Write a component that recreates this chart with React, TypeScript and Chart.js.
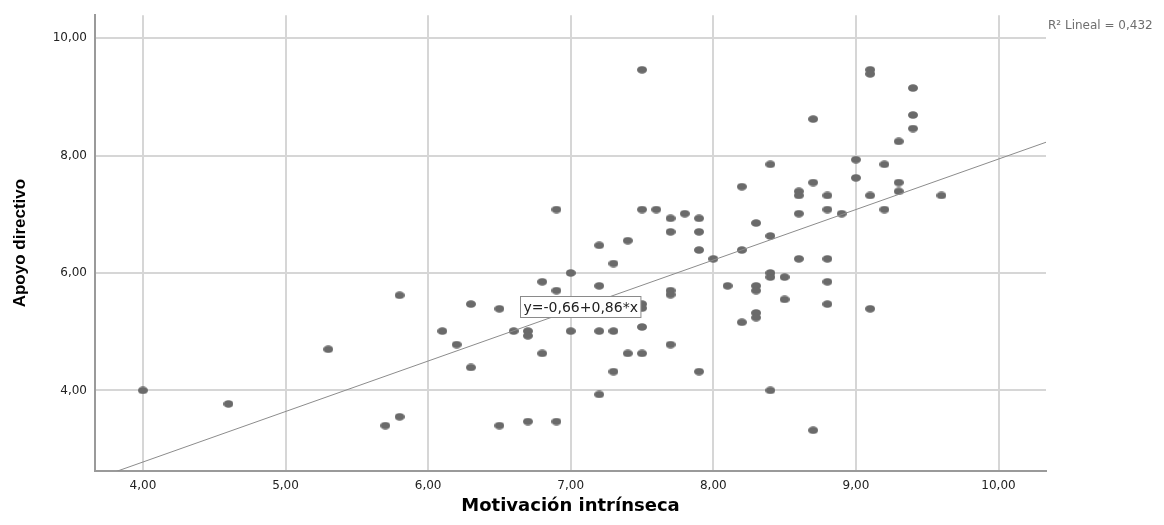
import React, { useEffect, useRef } from 'react';
import { Chart, registerables } from 'chart.js';

Chart.register(...registerables);

// ---- Data ----
const xValues: number[] = [
  4.0, 4.6, 5.3, 5.8, 5.8, 5.7, 6.1, 6.2, 6.3, 6.3,
  6.5, 6.5, 6.6, 6.7, 6.7, 6.7, 6.8, 6.8, 6.9, 6.9,
  6.9, 7.0, 7.0, 7.2, 7.2, 7.2, 7.2, 7.3, 7.3, 7.3,
  7.4, 7.4, 7.5, 7.5, 7.5, 7.5, 7.5, 7.5, 7.6, 7.7,
  7.7, 7.7, 7.7, 7.7, 7.8, 7.9, 7.9, 7.9, 7.9, 8.0,
  8.1, 8.2, 8.2, 8.2, 8.3, 8.3, 8.3, 8.3, 8.3, 8.4,
  8.4, 8.4, 8.4, 8.4, 8.5, 8.5, 8.6, 8.6, 8.6, 8.6,
  8.7, 8.7, 8.7, 8.8, 8.8, 8.8, 8.8, 8.8, 8.9, 9.0,
  9.0, 9.1, 9.1, 9.1, 9.1, 9.2, 9.2, 9.3, 9.3, 9.3,
  9.4, 9.4, 9.4, 9.6,
];
const yValues: number[] = [
  4.00, 3.77, 4.70, 5.62, 3.55, 3.40, 5.01, 4.78, 5.47, 4.39,
  5.39, 3.40, 5.01, 5.01, 4.93, 3.47, 5.85, 4.63, 7.08, 5.70,
  3.47, 6.00, 5.01, 6.47, 5.78, 5.01, 3.93, 6.16, 5.01, 4.32,
  6.55, 4.63, 9.46, 7.08, 5.47, 5.40, 5.08, 4.63, 7.08, 6.93,
  6.70, 5.70, 5.63, 4.78, 7.01, 6.93, 6.70, 6.39, 4.32, 6.24,
  5.78, 7.47, 6.39, 5.16, 6.85, 5.78, 5.70, 5.32, 5.24, 7.85,
  6.63, 6.00, 5.93, 4.00, 5.93, 5.55, 7.39, 7.32, 7.01, 6.24,
  8.62, 7.54, 3.32, 7.32, 7.08, 6.24, 5.85, 5.47, 7.01, 7.93,
  7.62, 9.46, 9.39, 7.32, 5.39, 7.85, 7.08, 8.24, 7.54, 7.39,
  9.15, 8.69, 8.46, 7.32,
];
const xTicks: number[] = [4, 5, 6, 7, 8, 9, 10];
const yTicks: number[] = [4, 6, 8, 10];
const xRange: number[] = [3.664, 10.333];
const yRange: number[] = [2.627, 10.39];
const intercept = -0.66;
const slope = 0.86;
const rSquared = 0.432;
const xTitle = 'Motivación intrínseca';
const yTitle = 'Apoyo directivo';
const eqLabelAt: number[] = [7.07, 5.43];

const fmt = (v: number, d = 2) => v.toFixed(d).replace('.', ',');

function makeDot(): HTMLCanvasElement {
  const c = document.createElement('canvas');
  c.width = 10;
  c.height = 8;
  const g = c.getContext('2d')!;
  g.fillStyle = '#6a6a6a';
  g.beginPath();
  g.ellipse(5, 4, 5, 3.8, 0, 0, Math.PI * 2);
  g.fill();
  return c;
}

const overlayPlugin = {
  id: 'overlayLabels',
  afterDraw(chart: any) {
    const { ctx, chartArea, scales } = chart;
    const xs = scales.x;
    const ys = scales.y;
    ctx.save();
    // equation box
    const eq = `y=${fmt(intercept)}+${fmt(slope)}*x`;
    ctx.font = '14px "DejaVu Sans"';
    const tw = ctx.measureText(eq).width;
    const cx = xs.getPixelForValue(eqLabelAt[0]);
    const cy = ys.getPixelForValue(eqLabelAt[1]);
    const bw = tw + 6;
    const bh = 21;
    const bx = Math.round(cx - bw / 2) + 0.5;
    const by = Math.round(cy - bh / 2) + 0.5;
    ctx.fillStyle = '#ffffff';
    ctx.fillRect(bx, by, bw, bh);
    ctx.strokeStyle = '#8a8a8a';
    ctx.lineWidth = 1;
    ctx.strokeRect(bx, by, bw, bh);
    ctx.fillStyle = '#222222';
    ctx.textAlign = 'center';
    ctx.textBaseline = 'middle';
    ctx.fillText(eq, bx + bw / 2, by + bh / 2 + 1);
    // R squared
    ctx.font = '12px "DejaVu Sans"';
    ctx.fillStyle = '#6e6e6e';
    ctx.textAlign = 'left';
    ctx.textBaseline = 'middle';
    ctx.fillText(`R² Lineal = ${fmt(rSquared, 3)}`, chartArea.right + 2, chartArea.top + 11);
    ctx.restore();
  },
};

export default function App() {
  const ref = useRef<HTMLCanvasElement | null>(null);

  useEffect(() => {
    if (!ref.current) return;
    const points = xValues.map((x, i) => ({ x, y: yValues[i] }));
    const fitLine = [xRange[0], xRange[1]].map((x) => ({ x, y: intercept + slope * x }));
    const dot = makeDot();

    const chart = new Chart(ref.current, {
      type: 'scatter',
      data: {
        datasets: [
          {
            type: 'line',
            data: fitLine,
            borderColor: '#8c8c8c',
            borderWidth: 1,
            pointRadius: 0,
            fill: false,
            order: 1,
          } as any,
          {
            data: points,
            pointStyle: dot as any,
            pointRadius: 5,
            backgroundColor: '#6a6a6a',
            borderWidth: 0,
            order: 2,
          },
        ],
      },
      options: {
        animation: false,
        responsive: false,
        devicePixelRatio: 1,
        layout: { padding: { left: 0, top: 13, right: 118, bottom: 0 } },
        plugins: { legend: { display: false }, tooltip: { enabled: false } },
        scales: {
          x: {
            type: 'linear',
            min: xRange[0],
            max: xRange[1],
            afterBuildTicks: (s: any) => {
              s.ticks = xTicks.map((v) => ({ value: v }));
            },
            afterFit: (s: any) => {
              s.height = 54;
            },
            grid: { color: '#d6d6d6', lineWidth: 2, drawTicks: false },
            border: { color: '#9a9a9a', width: 2 },
            ticks: {
              padding: 8,
              color: '#222222',
              font: { family: '"DejaVu Sans"', size: 12 },
              maxRotation: 0,
              callback: (v: any) => fmt(Number(v)),
            },
            title: {
              display: true,
              text: xTitle,
              color: '#000000',
              font: { family: '"DejaVu Sans"', size: 18, weight: 'bold' },
              padding: { top: 0, bottom: 8 },
            },
          },
          y: {
            type: 'linear',
            min: yRange[0],
            max: yRange[1],
            afterBuildTicks: (s: any) => {
              s.ticks = yTicks.map((v) => ({ value: v }));
            },
            afterFit: (s: any) => {
              s.width = 95;
            },
            grid: { color: '#d6d6d6', lineWidth: 2, drawTicks: false },
            border: { color: '#9a9a9a', width: 2 },
            ticks: {
              padding: 8,
              color: '#222222',
              font: { family: '"DejaVu Sans"', size: 12 },
              callback: (v: any) => fmt(Number(v)),
            },
            title: {
              display: true,
              text: yTitle,
              color: '#000000',
              font: { family: '"Liberation Sans", Arial, sans-serif', size: 17, weight: 'bold' },
              padding: { top: 10, bottom: 0 },
            },
          },
        },
      },
      plugins: [overlayPlugin],
    });
    return () => chart.destroy();
  }, []);

  return (
    <div style={{ position: 'absolute', left: 0, top: 0, width: 1164, height: 525, background: '#ffffff' }}>
      <canvas ref={ref} width={1164} height={525} style={{ display: 'block' }} />
    </div>
  );
}
